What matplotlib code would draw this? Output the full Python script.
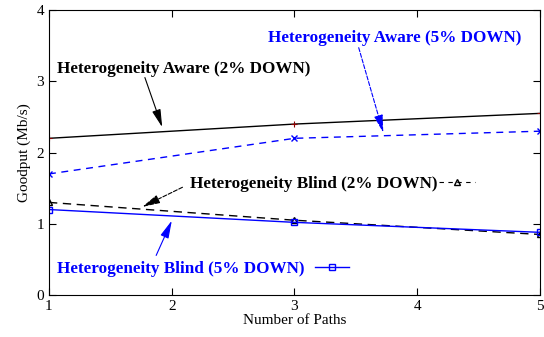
import matplotlib
matplotlib.use("Agg")
import matplotlib.pyplot as plt
from matplotlib.lines import Line2D

plt.rcParams['font.family'] = ['Liberation Serif', 'DejaVu Serif']

# data
paths = [1, 3, 5]
aware_2 = [2.2, 2.4, 2.55]
aware_5 = [1.7, 2.2, 2.3]
blind_2 = [1.3, 1.05, 0.85]
blind_5 = [1.2, 1.02, 0.88]

fig = plt.figure(figsize=(5.44, 3.37), dpi=100)
ax = fig.add_axes([0.090, 0.1246, 0.9026, 0.8454])

ax.plot(paths, aware_2, color='black', lw=1, marker='+', ms=5,
        mec='darkred', mew=0.8)
ax.plot(paths, aware_5, color='blue', lw=1, ls=(0, (5, 4)), marker='x', ms=5)
ax.plot(paths, blind_2, color='black', lw=1, ls=(0, (6, 4)), marker='^', ms=5,
        mfc='none')
ax.plot(paths, blind_5, color='blue', lw=1, marker='s', ms=5, mfc='none')

ax.set_xlim(1, 5)
ax.set_ylim(0, 4)
ax.set_xticks([1, 2, 3, 4, 5])
ax.set_yticks([0, 1, 2, 3, 4])
ax.tick_params(direction='in', top=True, right=True, labelsize=11, length=5)
ax.set_xlabel("Number of Paths", fontsize=11, labelpad=1)
ax.set_ylabel("Goodput (Mb/s)", fontsize=11, labelpad=4)

fs = 12.3
bold = dict(fontsize=fs, fontweight='bold')
head = '-|>,head_length=0.9,head_width=0.22'

# heterogeneity aware (2%)
ax.annotate("", xy=(1.93, 2.32), xytext=(1.774, 3.09),
            arrowprops=dict(arrowstyle=head, color='black', lw=0.8,
                            mutation_scale=12))
ax.text(1.065, 3.17, "Heterogeneity Aware (2% DOWN)", color='black',
        va='center', ha='left', **bold)

# heterogeneity aware (5%)
ax.annotate("", xy=(3.73, 2.24), xytext=(3.517, 3.51),
            arrowprops=dict(arrowstyle=head, color='blue', lw=0.8, ls='--',
                            mutation_scale=12))
ax.text(2.784, 3.607, "Heterogeneity Aware (5% DOWN)", color='blue',
        va='center', ha='left', **bold)

# heterogeneity blind (2%)
ax.annotate("", xy=(1.74, 1.22), xytext=(2.108, 1.53),
            arrowprops=dict(arrowstyle=head, color='black', lw=0.8, ls='--',
                            mutation_scale=12))
h2 = Line2D([], [], color='black', lw=0.8, ls=(0, (4, 4)), marker='^', ms=5,
            mfc='none')
leg2 = ax.legend([h2], ["Heterogeneity Blind (2% DOWN)"], loc='center left',
                 bbox_to_anchor=(2.149, 1.558), bbox_transform=ax.transData,
                 frameon=False, borderpad=0, borderaxespad=0,
                 markerfirst=False, handlelength=2.1, handletextpad=0.1,
                 prop=dict(family='Liberation Serif', weight='bold', size=fs))
ax.add_artist(leg2)

# heterogeneity blind (5%)
ax.annotate("", xy=(2.01, 1.08), xytext=(1.864, 0.52),
            arrowprops=dict(arrowstyle=head, color='blue', lw=0.8,
                            mutation_scale=12))
h5 = Line2D([], [], color='blue', lw=1, marker='s', ms=5, mfc='none')
leg5 = ax.legend([h5], ["Heterogeneity Blind (5% DOWN)"], loc='center left',
                 bbox_to_anchor=(1.065, 0.365), bbox_transform=ax.transData,
                 frameon=False, borderpad=0, borderaxespad=0,
                 markerfirst=False, handlelength=2.0, handletextpad=0.6,
                 prop=dict(family='Liberation Serif', weight='bold', size=fs))
for t in leg5.get_texts():
    t.set_color('blue')

fig.savefig("out.png", dpi=100)
